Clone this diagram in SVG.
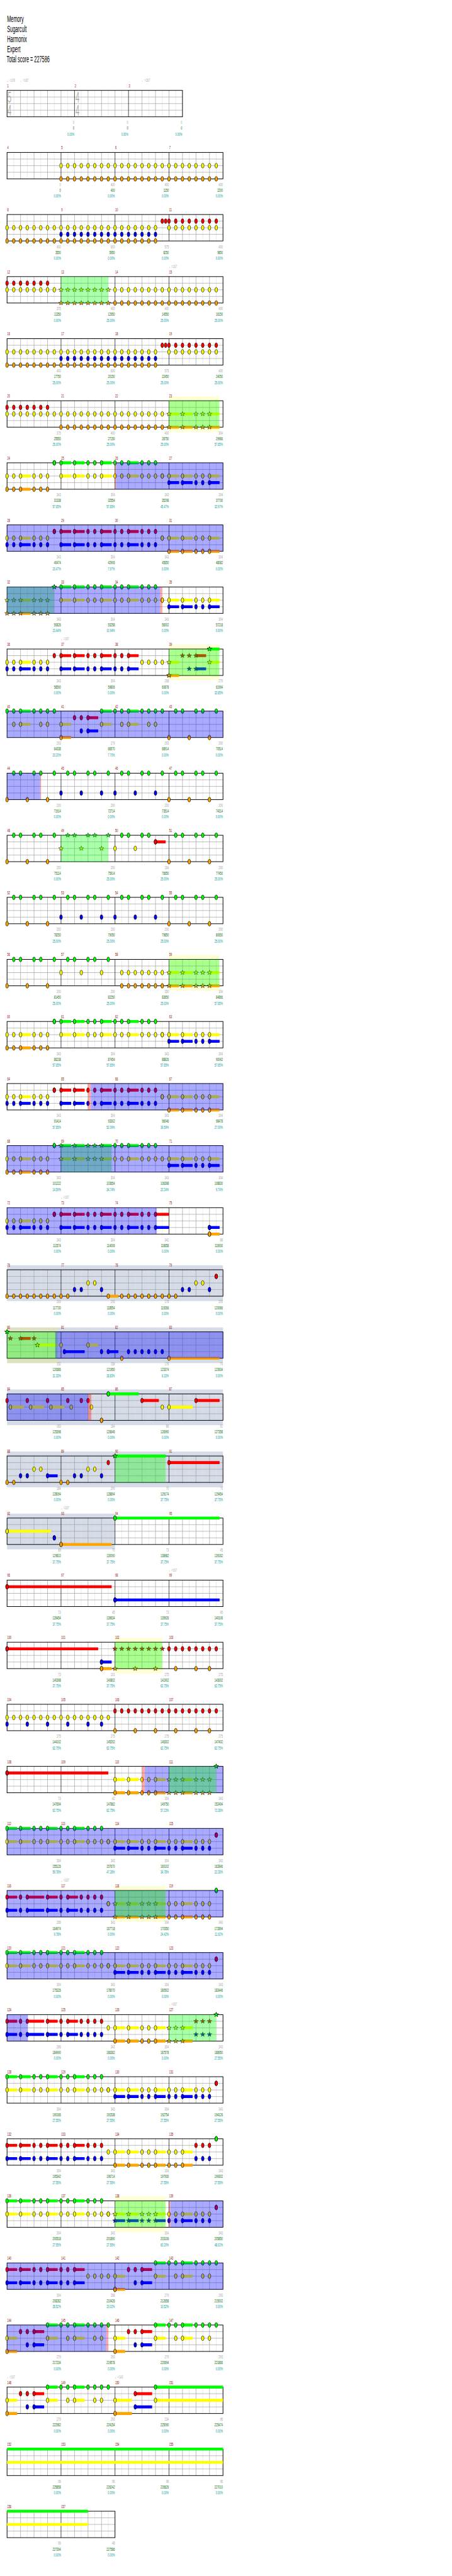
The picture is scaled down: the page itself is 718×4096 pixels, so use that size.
<svg xmlns="http://www.w3.org/2000/svg" width="718" height="4096" viewBox="0 0 718 4096">
<style>
text{font-family:"Liberation Sans",Arial,"DejaVu Sans",sans-serif}
.m,.n1,.n2,.n3,.tp{font-size:10.5px}
.m{fill:#8b0000}
.n1{fill:#a0a0a0;text-anchor:end}
.n2{fill:#006400;text-anchor:end}
.n3{fill:#009999;text-anchor:end}
.tp{fill:#aaa}
.ti{font-size:21px;fill:#000}
.ts{font-size:35px;fill:#b0b0b0}
.ng,.nr,.ny,.nb,.no,.xg,.xr,.xy,.xb,.xo{fill:none;stroke:none}
.ng{marker-start:url(#Mg);marker-mid:url(#Mg);marker-end:url(#Mg)}
.nr{marker-start:url(#Mr);marker-mid:url(#Mr);marker-end:url(#Mr)}
.ny{marker-start:url(#My);marker-mid:url(#My);marker-end:url(#My)}
.nb{marker-start:url(#Mb);marker-mid:url(#Mb);marker-end:url(#Mb)}
.no{marker-start:url(#Mo);marker-mid:url(#Mo);marker-end:url(#Mo)}
.xg{marker-start:url(#Xg);marker-mid:url(#Xg);marker-end:url(#Xg)}
.xr{marker-start:url(#Xr);marker-mid:url(#Xr);marker-end:url(#Xr)}
.xy{marker-start:url(#Xy);marker-mid:url(#Xy);marker-end:url(#Xy)}
.xb{marker-start:url(#Xb);marker-mid:url(#Xb);marker-end:url(#Xb)}
.xo{marker-start:url(#Xo);marker-mid:url(#Xo);marker-end:url(#Xo)}
.tg,.tr,.ty,.tb,.to{fill:none;stroke-width:.44}
.tg{stroke:#0f0}.tr{stroke:#f00}.ty{stroke:#ff0}.tb{stroke:#00f}.to{stroke:#ffa500}
.ob{fill:#00f;fill-opacity:.333}.og{fill:#0f0;fill-opacity:.333}.op{fill:#f00;fill-opacity:.333}
.bb{fill:#d5dbe7}.by{fill:#ff0;fill-opacity:.17}
.l1{stroke:#e2e2e2;fill:none}.l2{stroke:#a0a0a0;fill:none}.l3{stroke:#000;fill:none}.fr{fill:none;stroke:#000;stroke-width:1.4}
</style>
<defs>
<ellipse id="dot" rx=".2" ry=".36" stroke="#000" stroke-width=".06"/>
<polygon id="star" points="0,-.36 .082,-.113 .342,-.111 .133,.043 .212,.291 0,.14 -.212,.291 -.133,.043 -.342,-.111 -.082,-.113" stroke="#000" stroke-width=".05"/>
<marker id="Mg" markerUnits="userSpaceOnUse" overflow="visible"><use href="#dot" fill="#0f0"/></marker>
<marker id="Mr" markerUnits="userSpaceOnUse" overflow="visible"><use href="#dot" fill="#f00"/></marker>
<marker id="My" markerUnits="userSpaceOnUse" overflow="visible"><use href="#dot" fill="#ff0"/></marker>
<marker id="Mb" markerUnits="userSpaceOnUse" overflow="visible"><use href="#dot" fill="#00f"/></marker>
<marker id="Mo" markerUnits="userSpaceOnUse" overflow="visible"><use href="#dot" fill="#ffa500"/></marker>
<marker id="Xg" markerUnits="userSpaceOnUse" overflow="visible"><use href="#star" fill="#0f0"/></marker>
<marker id="Xr" markerUnits="userSpaceOnUse" overflow="visible"><use href="#star" fill="#f00"/></marker>
<marker id="Xy" markerUnits="userSpaceOnUse" overflow="visible"><use href="#star" fill="#ff0"/></marker>
<marker id="Xb" markerUnits="userSpaceOnUse" overflow="visible"><use href="#star" fill="#00f"/></marker>
<marker id="Xo" markerUnits="userSpaceOnUse" overflow="visible"><use href="#star" fill="#ffa500"/></marker>
<path id="q7" d="M0 0h1h1h1h1h1h1"/>
<path id="q8" d="M0 0h1h1h1h1h1h1h1"/>
<path id="q16" d="M0 0h1h1h1h1h1h1h1h1h1h1h1h1h1h1h1"/>
<path id="nA" d="M0 0H1H2H4H5H6"/>
<path id="sA" d="M2 0H3.5"/>
<path id="nB" d="M8 0H10H12H13H14H16H17H18H20H21H22"/>
<path id="sB" d="M8 0H9.5M10 0H11.5M14 0H15.5M18 0H19.5"/>
<path id="nC" d="M24 0H26H28H29H30"/>
<path id="sC" d="M24 0H25.5M26 0H27.5M30 0H31.5"/>
<path id="nD" d="M0 0H2H4H5H6H8H9H10H12H13H14"/>
<path id="sD" d="M0 0H1.5M2 0H3.5M6 0H7.5M10 0H11.5"/>
<path id="nE" d="M16 0H18H20H21H22H24H25H26H28H29H30"/>
<path id="sE" d="M16 0H17.5M18 0H19.5M22 0H23.5M26 0H27.5"/>
<path id="nF" d="M0 0H2H3H6H8H9H11H12H13H14"/>
<path id="sF" d="M0 0H1.5M3 0H5.5M6 0H7.5M9 0H10.5"/>
<path id="nG" d="M1 0H2H4H5H7H9H10H12H13H15H17H18H20H21H23H25H26H28H29H31"/>
<path id="nH" d="M0 0H3H6H24H27H30"/>
<path id="nI" d="M8 0H11H14H16H19H22"/>
<g id="st">
<path class="l1" d="M31.31 0v60M61.94 0v60M92.56 0v60M123.19 0v60M153.81 0v60M184.44 0v60M215.06 0v60M245.69 0v60M276.31 0v60M306.94 0v60M337.56 0v60M368.19 0v60M398.81 0v60M429.44 0v60M460.06 0v60M490.69 0v60"/>
<path class="l2" d="M46.63 0v60M77.25 0v60M107.88 0v60M169.13 0v60M199.75 0v60M230.38 0v60M291.63 0v60M322.25 0v60M352.88 0v60M414.13 0v60M444.75 0v60M475.38 0v60M16 15H506M16 30H506M16 45H506"/>
<path class="l3" d="M138.5 0v60M261 0v60M383.5 0v60"/>
<rect class="fr" x="16" width="490" height="60"/>
</g>
<g id="st0">
<path class="l1" d="M31.31 0v60M61.94 0v60M92.56 0v60M123.19 0v60M153.81 0v60M184.44 0v60M215.06 0v60M245.69 0v60M276.31 0v60M306.94 0v60M337.56 0v60M368.19 0v60M398.81 0v60"/>
<path class="l2" d="M46.63 0v60M77.25 0v60M107.88 0v60M138.5 0v60M199.75 0v60M230.38 0v60M261 0v60M322.25 0v60M352.88 0v60M383.5 0v60M16 15H414.1M16 30H414.1M16 45H414.1"/>
<path class="l3" d="M169.13 0v60M291.63 0v60"/>
<rect class="fr" x="16" width="398.1" height="60"/>
</g>
<g id="st2">
<path class="l1" d="M31.31 0v60M61.94 0v60M92.56 0v60M123.19 0v60M153.81 0v60M184.44 0v60M215.06 0v60M245.69 0v60"/>
<path class="l2" d="M46.63 0v60M77.25 0v60M107.88 0v60M169.13 0v60M199.75 0v60M230.38 0v60M16 15H261M16 30H261M16 45H261"/>
<path class="l3" d="M138.5 0v60"/>
<rect class="fr" x="16" width="245" height="60"/>
</g>
</defs>
<rect width="718" height="4096" fill="#fff"/>
<g transform="scale(.7)">
<g id="title" transform="scale(.5,1)"><text class="ti" x="32" y="49.3">Memory</text><text class="ti" x="32" y="72.7">Sugarcult</text><text class="ti" x="32" y="96">Harmonix</text><text class="ti" x="32" y="119">Expert</text><text class="ti" x="30" y="141.7">Total score = 227586</text></g>

<g id="r0" transform="translate(0,205.3)"><use href="#st0"/><g transform="scale(.45,1)"><text class="ts" x="38.4" y="28">5</text><text class="ts" x="38.4" y="58">4</text><text class="ts" x="380.7" y="28">4</text><text class="ts" x="380.7" y="58">4</text></g><g transform="scale(.53,1)"><text class="tp" x="30.2" y="-20">♩=109</text><text class="tp" x="87.9" y="-20">♩=167</text><text class="tp" x="607.9" y="-20">♩=167</text><text class="m" y="-7.3"><tspan x="31.1">1</tspan><tspan x="320">2</tspan><tspan x="551.1">3</tspan></text><text class="n1" y="76.4"><tspan x="318.1">0</tspan><tspan x="549.2">0</tspan><tspan x="780.4">0</tspan></text><text class="n2" y="89.4"><tspan x="318.1">0</tspan><tspan x="549.2">0</tspan><tspan x="780.4">0</tspan></text><text class="n3" y="103"><tspan x="318.1">0.00%</tspan><tspan x="549.2">0.00%</tspan><tspan x="780.4">0.00%</tspan></text></g></g>

<g id="r1" transform="translate(0,346.3)"><use href="#st"/><g transform="translate(16,0) scale(15.3125,15)"><use href="#q8" class="ny" x="8" y="2"/><use href="#q16" class="ny" x="16" y="2"/><use href="#q8" class="no" x="8" y="4"/><use href="#q16" class="no" x="16" y="4"/></g><g transform="scale(.53,1)"><text class="m" y="-7.3"><tspan x="31.1">4</tspan><tspan x="262.3">5</tspan><tspan x="493.4">6</tspan><tspan x="724.5">7</tspan></text><text class="n1" y="76.4"><tspan x="260.4">0</tspan><tspan x="491.5">400</tspan><tspan x="722.6">400</tspan><tspan x="953.8">400</tspan></text><text class="n2" y="89.4"><tspan x="260.4">0</tspan><tspan x="491.5">400</tspan><tspan x="722.6">1150</tspan><tspan x="953.8">2200</tspan></text><text class="n3" y="103"><tspan x="260.4">0.00%</tspan><tspan x="491.5">0.00%</tspan><tspan x="722.6">0.00%</tspan><tspan x="953.8">0.00%</tspan></text></g></g>

<g id="r2" transform="translate(0,487.3)"><use href="#st"/><g transform="translate(16,0) scale(15.3125,15)"><use href="#q16" class="ny" y="2"/><use href="#q7" class="ny" x="16" y="2"/><use href="#q8" class="ny" x="24" y="2"/><use href="#q8" class="nb" x="8" y="3"/><use href="#q7" class="nb" x="16" y="3"/><use href="#q16" class="no" y="4"/><use href="#q7" class="no" x="16" y="4"/><path class="nr" d="M23 1h.5h.5h1h1h1h1h1h1h1"/></g><g transform="scale(.53,1)"><text class="m" y="-7.3"><tspan x="31.1">8</tspan><tspan x="262.3">9</tspan><tspan x="493.4">10</tspan><tspan x="724.5">11</tspan></text><text class="n1" y="76.4"><tspan x="260.4">400</tspan><tspan x="491.5">600</tspan><tspan x="722.6">575</tspan><tspan x="953.8">400</tspan></text><text class="n2" y="89.4"><tspan x="260.4">3550</tspan><tspan x="491.5">5950</tspan><tspan x="722.6">8250</tspan><tspan x="953.8">9850</tspan></text><text class="n3" y="103"><tspan x="260.4">0.00%</tspan><tspan x="491.5">0.00%</tspan><tspan x="722.6">0.00%</tspan><tspan x="953.8">0.00%</tspan></text></g></g>

<g id="r3" transform="translate(0,628.3)"><use href="#st"/><g transform="translate(16,0) scale(15.3125,15)"><use href="#q7" class="nr" y="1"/><use href="#q8" class="ny" y="2"/><use href="#q8" class="xy" x="8" y="2"/><use href="#q16" class="ny" x="16" y="2"/><use href="#q8" class="xo" x="8" y="4"/><use href="#q16" class="no" x="16" y="4"/><rect class="og" x="8" width="7" height="4"/></g><g transform="scale(.53,1)"><text class="tp" x="723.6" y="-20">♩=167</text><text class="m" y="-7.3"><tspan x="31.1">12</tspan><tspan x="262.3">13</tspan><tspan x="493.4">14</tspan><tspan x="724.5">15</tspan></text><text class="n1" y="76.4"><tspan x="260.4">375</tspan><tspan x="491.5">400</tspan><tspan x="722.6">400</tspan><tspan x="953.8">400</tspan></text><text class="n2" y="89.4"><tspan x="260.4">11350</tspan><tspan x="491.5">12950</tspan><tspan x="722.6">14550</tspan><tspan x="953.8">16150</tspan></text><text class="n3" y="103"><tspan x="260.4">0.00%</tspan><tspan x="491.5">25.00%</tspan><tspan x="722.6">25.00%</tspan><tspan x="953.8">25.00%</tspan></text></g></g>

<g id="r4" transform="translate(0,769.3)"><use href="#st"/><g transform="translate(16,0) scale(15.3125,15)"><use href="#q16" class="ny" y="2"/><use href="#q7" class="ny" x="16" y="2"/><use href="#q8" class="ny" x="24" y="2"/><use href="#q8" class="nb" x="8" y="3"/><use href="#q7" class="nb" x="16" y="3"/><use href="#q16" class="no" y="4"/><use href="#q7" class="no" x="16" y="4"/><path class="nr" d="M23 1h.5h.5h1h1h1h1h1h1h1"/></g><g transform="scale(.53,1)"><text class="m" y="-7.3"><tspan x="31.1">16</tspan><tspan x="262.3">17</tspan><tspan x="493.4">18</tspan><tspan x="724.5">19</tspan></text><text class="n1" y="76.4"><tspan x="260.4">400</tspan><tspan x="491.5">600</tspan><tspan x="722.6">575</tspan><tspan x="953.8">400</tspan></text><text class="n2" y="89.4"><tspan x="260.4">17750</tspan><tspan x="491.5">20150</tspan><tspan x="722.6">22450</tspan><tspan x="953.8">24050</tspan></text><text class="n3" y="103"><tspan x="260.4">25.00%</tspan><tspan x="491.5">25.00%</tspan><tspan x="722.6">25.00%</tspan><tspan x="953.8">25.00%</tspan></text></g></g>

<g id="r5" transform="translate(0,910.3)"><rect class="by" x="383.5" y="-10" width="114.2" height="81"/><use href="#st"/><g transform="translate(16,0) scale(15.3125,15)"><use href="#sC" class="ty" y="2"/><use href="#sC" class="to" y="4"/><use href="#q7" class="nr" y="1"/><use href="#q16" class="ny" y="2"/><use href="#q8" class="ny" x="16" y="2"/><use href="#q16" class="no" x="8" y="4"/><use href="#nC" class="xy" y="2"/><use href="#nC" class="xo" y="4"/><rect class="og" x="24" width="7.46" height="4"/></g><g transform="scale(.53,1)"><text class="m" y="-7.3"><tspan x="31.1">20</tspan><tspan x="262.3">21</tspan><tspan x="493.4">22</tspan><tspan x="724.5">23</tspan></text><text class="n1" y="76.4"><tspan x="260.4">375</tspan><tspan x="491.5">400</tspan><tspan x="722.6">400</tspan><tspan x="953.8">304</tspan></text><text class="n2" y="89.4"><tspan x="260.4">25550</tspan><tspan x="491.5">27150</tspan><tspan x="722.6">28750</tspan><tspan x="953.8">29966</tspan></text><text class="n3" y="103"><tspan x="260.4">25.00%</tspan><tspan x="491.5">25.00%</tspan><tspan x="722.6">25.00%</tspan><tspan x="953.8">57.65%</tspan></text></g></g>

<g id="r6" transform="translate(0,1051.3)"><use href="#st"/><g transform="translate(16,0) scale(15.3125,15)"><use href="#sB" class="tg"/><use href="#sA" class="ty" y="2"/><use href="#sB" class="ty" y="2"/><use href="#sC" class="ty" y="2"/><use href="#sC" class="tb" y="3"/><use href="#sA" class="to" y="4"/><path class="ng" d="M7 0H7"/><use href="#nB" class="ng"/><use href="#nA" class="ny" y="2"/><use href="#nB" class="ny" y="2"/><path class="ny" d="M23 2H23"/><use href="#nC" class="ny" y="2"/><use href="#nC" class="nb" y="3"/><use href="#nA" class="no" y="4"/><rect class="op" x="16" width=".15" height="4"/><rect class="ob" x="16.15" width="15.85" height="4"/></g><g transform="scale(.53,1)"><text class="m" y="-7.3"><tspan x="31.1">24</tspan><tspan x="262.3">25</tspan><tspan x="493.4">26</tspan><tspan x="724.5">27</tspan></text><text class="n1" y="76.4"><tspan x="260.4">343</tspan><tspan x="491.5">304</tspan><tspan x="722.6">343</tspan><tspan x="953.8">304</tspan></text><text class="n2" y="89.4"><tspan x="260.4">31338</tspan><tspan x="491.5">32554</tspan><tspan x="722.6">35298</tspan><tspan x="953.8">37730</tspan></text><text class="n3" y="103"><tspan x="260.4">57.65%</tspan><tspan x="491.5">57.65%</tspan><tspan x="722.6">45.47%</tspan><tspan x="953.8">32.97%</tspan></text></g></g>

<g id="r7" transform="translate(0,1192.3)"><use href="#st"/><g transform="translate(16,0) scale(15.3125,15)"><use href="#sB" class="tr" y="1"/><use href="#sA" class="ty" y="2"/><use href="#sC" class="ty" y="2"/><use href="#sA" class="tb" y="3"/><use href="#sB" class="tb" y="3"/><use href="#sC" class="to" y="4"/><path class="nr" d="M7 1H7"/><use href="#nB" class="nr" y="1"/><use href="#nA" class="ny" y="2"/><path class="ny" d="M23 2H23"/><use href="#nC" class="ny" y="2"/><use href="#nA" class="nb" y="3"/><use href="#nB" class="nb" y="3"/><use href="#nC" class="no" y="4"/><rect class="ob" width="32" height="4"/></g><g transform="scale(.53,1)"><text class="m" y="-7.3"><tspan x="31.1">28</tspan><tspan x="262.3">29</tspan><tspan x="493.4">30</tspan><tspan x="724.5">31</tspan></text><text class="n1" y="76.4"><tspan x="260.4">343</tspan><tspan x="491.5">304</tspan><tspan x="722.6">343</tspan><tspan x="953.8">304</tspan></text><text class="n2" y="89.4"><tspan x="260.4">40474</tspan><tspan x="491.5">42906</tspan><tspan x="722.6">45650</tspan><tspan x="953.8">48082</tspan></text><text class="n3" y="103"><tspan x="260.4">20.47%</tspan><tspan x="491.5">7.97%</tspan><tspan x="722.6">0.00%</tspan><tspan x="953.8">0.00%</tspan></text></g></g>

<g id="r8" transform="translate(0,1333.3)"><use href="#st"/><g transform="translate(16,0) scale(15.3125,15)"><use href="#sB" class="tg"/><use href="#sA" class="ty" y="2"/><use href="#sB" class="ty" y="2"/><use href="#sC" class="ty" y="2"/><use href="#sC" class="tb" y="3"/><use href="#sA" class="to" y="4"/><path class="xg" d="M7 0H7"/><use href="#nB" class="ng"/><use href="#nA" class="xy" y="2"/><use href="#nB" class="ny" y="2"/><path class="ny" d="M23 2H23"/><use href="#nC" class="ny" y="2"/><use href="#nC" class="nb" y="3"/><use href="#nA" class="xo" y="4"/><rect class="og" width="7" height="4"/><rect class="ob" width="22.7" height="4"/><rect class="op" x="22.7" width=".3" height="4"/></g><g transform="scale(.53,1)"><text class="m" y="-7.3"><tspan x="31.1">32</tspan><tspan x="262.3">33</tspan><tspan x="493.4">34</tspan><tspan x="724.5">35</tspan></text><text class="n1" y="76.4"><tspan x="260.4">343</tspan><tspan x="491.5">304</tspan><tspan x="722.6">343</tspan><tspan x="953.8">304</tspan></text><text class="n2" y="89.4"><tspan x="260.4">50826</tspan><tspan x="491.5">53258</tspan><tspan x="722.6">56002</tspan><tspan x="953.8">57218</tspan></text><text class="n3" y="103"><tspan x="260.4">23.44%</tspan><tspan x="491.5">10.94%</tspan><tspan x="722.6">0.00%</tspan><tspan x="953.8">0.00%</tspan></text></g></g>

<g id="r9" transform="translate(0,1474.3)"><rect class="by" x="383.5" y="-10" width="114.2" height="81"/><use href="#st"/><g transform="translate(16,0) scale(15.3125,15)"><path class="tr" d="M8 1H9.5M10 1H11.5M14 1H15.5M18 1H19.5M28 1H29.5"/><use href="#sA" class="ty" y="2"/><path class="ty" d="M24 2H25.5M30 2H31.5"/><path class="tg" d="M30 0H31.5"/><use href="#sA" class="tb" y="3"/><path class="tb" d="M8 3H9.5M10 3H11.5M14 3H15.5M18 3H19.5M28 3H29.5"/><path class="to" d="M24 4H25.5"/><path class="nr" d="M7 1H8H10H12H13H14H16H17H18"/><use href="#nA" class="ny" y="2"/><path class="ny" d="M20 2H21H22H23"/><path class="xy" d="M24 2H30"/><path class="xg" d="M30 0H30"/><path class="xr" d="M26 1H27H28"/><use href="#nA" class="nb" y="3"/><path class="nb" d="M8 3H10H12H13H14H16H17H18"/><path class="xb" d="M27 3H28"/><path class="xo" d="M24 4H24"/><rect class="og" x="24" width="7.46" height="4"/></g><g transform="scale(.53,1)"><text class="tp" x="261.3" y="-20">♩=167</text><text class="m" y="-7.3"><tspan x="31.1">36</tspan><tspan x="262.3">37</tspan><tspan x="493.4">38</tspan><tspan x="724.5">39</tspan></text><text class="n1" y="76.4"><tspan x="260.4">343</tspan><tspan x="491.5">304</tspan><tspan x="722.6">268</tspan><tspan x="953.8">279</tspan></text><text class="n2" y="89.4"><tspan x="260.4">58590</tspan><tspan x="491.5">59806</tspan><tspan x="722.6">60878</tspan><tspan x="953.8">61994</tspan></text><text class="n3" y="103"><tspan x="260.4">0.00%</tspan><tspan x="491.5">0.00%</tspan><tspan x="722.6">0.00%</tspan><tspan x="953.8">32.65%</tspan></text></g></g>

<g id="r10" transform="translate(0,1615.3)"><use href="#st"/><g transform="translate(16,0) scale(15.3125,15)"><path class="tg" d="M2 0H3.5M14 0H15.5M18 0H19.5"/><path class="tr" d="M12 1H13.5"/><path class="ty" d="M2 2H3.5M8 2H9.5M14 2H15.5M18 2H19.5"/><path class="tb" d="M12 3H13.5"/><path class="to" d="M8 4H9.5"/><path class="ng" d="M0 0H1H2H4H5H6H7H14H16H17H18H20H21H22H23H25H26H28H29H31"/><path class="nr" d="M10 1H11H12"/><path class="ny" d="M1 2H2H5H6H8H14H17H18H21H22"/><path class="nb" d="M11 3H12"/><path class="no" d="M8 4H24H27H30"/><rect class="ob" width="32" height="4"/></g><g transform="scale(.53,1)"><text class="m" y="-7.3"><tspan x="31.1">40</tspan><tspan x="262.3">41</tspan><tspan x="493.4">42</tspan><tspan x="724.5">43</tspan></text><text class="n1" y="76.4"><tspan x="260.4">293</tspan><tspan x="491.5">279</tspan><tspan x="722.6">293</tspan><tspan x="953.8">200</tspan></text><text class="n2" y="89.4"><tspan x="260.4">64338</tspan><tspan x="491.5">66570</tspan><tspan x="722.6">68914</tspan><tspan x="953.8">70514</tspan></text><text class="n3" y="103"><tspan x="260.4">20.20%</tspan><tspan x="491.5">7.70%</tspan><tspan x="722.6">0.00%</tspan><tspan x="953.8">0.00%</tspan></text></g></g>

<g id="r11" transform="translate(0,1756.3)"><use href="#st"/><g transform="translate(16,0) scale(15.3125,15)"><use href="#nG" class="ng"/><use href="#nI" class="nb" y="3"/><use href="#nH" class="no" y="4"/><rect class="ob" width="4.9" height="4"/><rect class="op" x="4.9" width=".13" height="4"/></g><g transform="scale(.53,1)"><text class="m" y="-7.3"><tspan x="31.1">44</tspan><tspan x="262.3">45</tspan><tspan x="493.4">46</tspan><tspan x="724.5">47</tspan></text><text class="n1" y="76.4"><tspan x="260.4">200</tspan><tspan x="491.5">200</tspan><tspan x="722.6">200</tspan><tspan x="953.8">200</tspan></text><text class="n2" y="89.4"><tspan x="260.4">71914</tspan><tspan x="491.5">72714</tspan><tspan x="722.6">73514</tspan><tspan x="953.8">74314</tspan></text><text class="n3" y="103"><tspan x="260.4">0.00%</tspan><tspan x="491.5">0.00%</tspan><tspan x="722.6">0.00%</tspan><tspan x="953.8">0.00%</tspan></text></g></g>

<g id="r12" transform="translate(0,1897.3)"><use href="#st"/><g transform="translate(16,0) scale(15.3125,15)"><path class="tr" d="M22 1H23.5"/><path class="ng" d="M1 0H2H4H5H7H17H18H20H21H25H26H28H29H31"/><path class="xg" d="M9 0H10H12H13H15"/><path class="nr" d="M22 1H22"/><path class="xy" d="M8 2H11H14"/><path class="ny" d="M16 2H19"/><use href="#nH" class="no" y="4"/><rect class="og" x="8" width="7" height="4"/></g><g transform="scale(.53,1)"><text class="m" y="-7.3"><tspan x="31.1">48</tspan><tspan x="262.3">49</tspan><tspan x="493.4">50</tspan><tspan x="724.5">51</tspan></text><text class="n1" y="76.4"><tspan x="260.4">200</tspan><tspan x="491.5">200</tspan><tspan x="722.6">184</tspan><tspan x="953.8">200</tspan></text><text class="n2" y="89.4"><tspan x="260.4">75114</tspan><tspan x="491.5">75914</tspan><tspan x="722.6">76650</tspan><tspan x="953.8">77450</tspan></text><text class="n3" y="103"><tspan x="260.4">0.00%</tspan><tspan x="491.5">25.00%</tspan><tspan x="722.6">25.00%</tspan><tspan x="953.8">25.00%</tspan></text></g></g>

<g id="r13" transform="translate(0,2038.3)"><use href="#st"/><g transform="translate(16,0) scale(15.3125,15)"><use href="#nG" class="ng"/><use href="#nI" class="nb" y="3"/><use href="#nH" class="no" y="4"/></g><g transform="scale(.53,1)"><text class="m" y="-7.3"><tspan x="31.1">52</tspan><tspan x="262.3">53</tspan><tspan x="493.4">54</tspan><tspan x="724.5">55</tspan></text><text class="n1" y="76.4"><tspan x="260.4">200</tspan><tspan x="491.5">200</tspan><tspan x="722.6">200</tspan><tspan x="953.8">200</tspan></text><text class="n2" y="89.4"><tspan x="260.4">78250</tspan><tspan x="491.5">79050</tspan><tspan x="722.6">79850</tspan><tspan x="953.8">80650</tspan></text><text class="n3" y="103"><tspan x="260.4">25.00%</tspan><tspan x="491.5">25.00%</tspan><tspan x="722.6">25.00%</tspan><tspan x="953.8">25.00%</tspan></text></g></g>

<g id="r14" transform="translate(0,2179.3)"><rect class="by" x="383.5" y="-10" width="114.2" height="81"/><use href="#st"/><g transform="translate(16,0) scale(15.3125,15)"><use href="#sC" class="ty" y="2"/><use href="#sC" class="to" y="4"/><path class="ng" d="M1 0H2H4H5H7H9H10H12H13H15"/><path class="ny" d="M8 2H11H14H17H18H19H20H21H22H23"/><path class="no" d="M0 4H3H6H17H18H19H20H21H22H23"/><use href="#nC" class="xy" y="2"/><use href="#nC" class="xo" y="4"/><rect class="og" x="24" width="7.46" height="4"/></g><g transform="scale(.53,1)"><text class="m" y="-7.3"><tspan x="31.1">56</tspan><tspan x="262.3">57</tspan><tspan x="493.4">58</tspan><tspan x="724.5">59</tspan></text><text class="n1" y="76.4"><tspan x="260.4">200</tspan><tspan x="491.5">200</tspan><tspan x="722.6">350</tspan><tspan x="953.8">304</tspan></text><text class="n2" y="89.4"><tspan x="260.4">81450</tspan><tspan x="491.5">82250</tspan><tspan x="722.6">83650</tspan><tspan x="953.8">84866</tspan></text><text class="n3" y="103"><tspan x="260.4">25.00%</tspan><tspan x="491.5">25.00%</tspan><tspan x="722.6">25.00%</tspan><tspan x="953.8">57.65%</tspan></text></g></g>

<g id="r15" transform="translate(0,2320.3)"><use href="#st"/><g transform="translate(16,0) scale(15.3125,15)"><use href="#sB" class="tg"/><use href="#sA" class="ty" y="2"/><use href="#sB" class="ty" y="2"/><use href="#sC" class="ty" y="2"/><use href="#sC" class="tb" y="3"/><use href="#sA" class="to" y="4"/><path class="ng" d="M7 0H7"/><use href="#nB" class="ng"/><use href="#nA" class="ny" y="2"/><use href="#nB" class="ny" y="2"/><path class="ny" d="M23 2H23"/><use href="#nC" class="ny" y="2"/><use href="#nC" class="nb" y="3"/><use href="#nA" class="no" y="4"/></g><g transform="scale(.53,1)"><text class="m" y="-7.3"><tspan x="31.1">60</tspan><tspan x="262.3">61</tspan><tspan x="493.4">62</tspan><tspan x="724.5">63</tspan></text><text class="n1" y="76.4"><tspan x="260.4">343</tspan><tspan x="491.5">304</tspan><tspan x="722.6">343</tspan><tspan x="953.8">304</tspan></text><text class="n2" y="89.4"><tspan x="260.4">86238</tspan><tspan x="491.5">87454</tspan><tspan x="722.6">88826</tspan><tspan x="953.8">90042</tspan></text><text class="n3" y="103"><tspan x="260.4">57.65%</tspan><tspan x="491.5">57.65%</tspan><tspan x="722.6">57.65%</tspan><tspan x="953.8">57.65%</tspan></text></g></g>

<g id="r16" transform="translate(0,2461.3)"><use href="#st"/><g transform="translate(16,0) scale(15.3125,15)"><use href="#sB" class="tr" y="1"/><use href="#sA" class="ty" y="2"/><use href="#sC" class="ty" y="2"/><use href="#sA" class="tb" y="3"/><use href="#sB" class="tb" y="3"/><use href="#sC" class="to" y="4"/><path class="nr" d="M7 1H7"/><use href="#nB" class="nr" y="1"/><use href="#nA" class="ny" y="2"/><path class="ny" d="M23 2H23"/><use href="#nC" class="ny" y="2"/><use href="#nA" class="nb" y="3"/><use href="#nB" class="nb" y="3"/><use href="#nC" class="no" y="4"/><rect class="op" x="12" width=".43" height="4"/><rect class="ob" x="12.43" width="19.57" height="4"/></g><g transform="scale(.53,1)"><text class="m" y="-7.3"><tspan x="31.1">64</tspan><tspan x="262.3">65</tspan><tspan x="493.4">66</tspan><tspan x="724.5">67</tspan></text><text class="n1" y="76.4"><tspan x="260.4">343</tspan><tspan x="491.5">304</tspan><tspan x="722.6">343</tspan><tspan x="953.8">304</tspan></text><text class="n2" y="89.4"><tspan x="260.4">91414</tspan><tspan x="491.5">93302</tspan><tspan x="722.6">96046</tspan><tspan x="953.8">98478</tspan></text><text class="n3" y="103"><tspan x="260.4">57.65%</tspan><tspan x="491.5">52.09%</tspan><tspan x="722.6">39.59%</tspan><tspan x="953.8">27.09%</tspan></text></g></g>

<g id="r17" transform="translate(0,2602.3)"><use href="#st"/><g transform="translate(16,0) scale(15.3125,15)"><use href="#sB" class="tg"/><use href="#sA" class="ty" y="2"/><use href="#sB" class="ty" y="2"/><use href="#sC" class="ty" y="2"/><use href="#sC" class="tb" y="3"/><use href="#sA" class="to" y="4"/><path class="ng" d="M7 0H7M16 0H17H18H20H21H22"/><path class="xg" d="M8 0H10H12H13H14"/><use href="#nA" class="ny" y="2"/><path class="xy" d="M8 2H10H12H13H14"/><path class="ny" d="M16 2H17H18H20H21H22H23"/><use href="#nC" class="ny" y="2"/><use href="#nC" class="nb" y="3"/><use href="#nA" class="no" y="4"/><rect class="og" x="8" width="7.5" height="4"/><rect class="ob" width="32" height="4"/></g><g transform="scale(.53,1)"><text class="m" y="-7.3"><tspan x="31.1">68</tspan><tspan x="262.3">69</tspan><tspan x="493.4">70</tspan><tspan x="724.5">71</tspan></text><text class="n1" y="76.4"><tspan x="260.4">343</tspan><tspan x="491.5">304</tspan><tspan x="722.6">343</tspan><tspan x="953.8">304</tspan></text><text class="n2" y="89.4"><tspan x="260.4">101222</tspan><tspan x="491.5">103654</tspan><tspan x="722.6">106398</tspan><tspan x="953.8">108830</tspan></text><text class="n3" y="103"><tspan x="260.4">14.59%</tspan><tspan x="491.5">34.74%</tspan><tspan x="722.6">22.24%</tspan><tspan x="953.8">9.74%</tspan></text></g></g>

<g id="r18" transform="translate(0,2743.3)"><use href="#st"/><g transform="translate(16,0) scale(15.3125,15)"><use href="#sB" class="tr" y="1"/><path class="tr" d="M22 1H24"/><use href="#sA" class="ty" y="2"/><use href="#sA" class="tb" y="3"/><use href="#sB" class="tb" y="3"/><path class="tb" d="M22 3H24M30 3H31.5"/><path class="to" d="M30 4H31.5"/><path class="nr" d="M7 1H7"/><use href="#nB" class="nr" y="1"/><use href="#nA" class="ny" y="2"/><use href="#nA" class="nb" y="3"/><use href="#nB" class="nb" y="3"/><path class="nb" d="M30 3H30"/><path class="no" d="M30 4H30"/><rect class="ob" width="22.2" height="4"/></g><g transform="scale(.53,1)"><text class="tp" x="261.3" y="-20">♩=167</text><text class="m" y="-7.3"><tspan x="31.1">72</tspan><tspan x="262.3">73</tspan><tspan x="493.4">74</tspan><tspan x="724.5">75</tspan></text><text class="n1" y="76.4"><tspan x="260.4">343</tspan><tspan x="491.5">304</tspan><tspan x="722.6">342</tspan><tspan x="953.8">68</tspan></text><text class="n2" y="89.4"><tspan x="260.4">111574</tspan><tspan x="491.5">114006</tspan><tspan x="722.6">116658</tspan><tspan x="953.8">116930</tspan></text><text class="n3" y="103"><tspan x="260.4">0.00%</tspan><tspan x="491.5">0.00%</tspan><tspan x="722.6">0.00%</tspan><tspan x="953.8">0.00%</tspan></text></g></g>

<g id="r19" transform="translate(0,2884.3)"><rect class="bb" x="16" y="-10" width="490" height="81"/><use href="#st"/><g transform="translate(16,0) scale(15.3125,15)"><path class="to" d="M15 4H16.5"/><use href="#q8" class="no" y="4"/><path class="no" d="M8 4H9H15H17H18H19H20H21H22H23H24H25"/><path class="nb" d="M10 3H11H14H26H27H30"/><path class="ny" d="M12 2H13H28H29"/><path class="nr" d="M31 1H31"/></g><g transform="scale(.53,1)"><text class="m" y="-7.3"><tspan x="31.1">76</tspan><tspan x="262.3">77</tspan><tspan x="493.4">78</tspan><tspan x="724.5">79</tspan></text><text class="n1" y="76.4"><tspan x="260.4">200</tspan><tspan x="491.5">206</tspan><tspan x="722.6">178</tspan><tspan x="953.8">200</tspan></text><text class="n2" y="89.4"><tspan x="260.4">117730</tspan><tspan x="491.5">118554</tspan><tspan x="722.6">119266</tspan><tspan x="953.8">120066</tspan></text><text class="n3" y="103"><tspan x="260.4">0.00%</tspan><tspan x="491.5">0.00%</tspan><tspan x="722.6">0.00%</tspan><tspan x="953.8">0.00%</tspan></text></g></g>

<g id="r20" transform="translate(0,3025.3)"><rect class="bb" x="16" y="-10" width="490" height="81"/><rect class="by" x="16" y="-10" width="114.4" height="81"/><use href="#st"/><g transform="translate(16,0) scale(15.3125,15)"><path class="tr" d="M2 1H3.5"/><path class="ty" d="M4.5 2H7.5M12 2H13.5"/><path class="tb" d="M8.5 3H11.5M15 3H16.5"/><path class="to" d="M24 4H31.5"/><path class="xg" d="M0 0H0"/><path class="xr" d="M.5 1H2H4"/><path class="xy" d="M4.5 2H4.5"/><path class="ny" d="M8 2H12"/><path class="nb" d="M8.5 3H14H15H18H19H20H21H22H23"/><path class="no" d="M17 4H24"/><rect class="og" width="7.47" height="4"/><rect class="ob" x="7.14" width="24.86" height="4"/></g><g transform="scale(.53,1)"><text class="m" y="-7.3"><tspan x="31.1">80</tspan><tspan x="262.3">81</tspan><tspan x="493.4">82</tspan><tspan x="724.5">83</tspan></text><text class="n1" y="76.4"><tspan x="260.4">152</tspan><tspan x="491.5">158</tspan><tspan x="722.6">178</tspan><tspan x="953.8">70</tspan></text><text class="n2" y="89.4"><tspan x="260.4">120686</tspan><tspan x="491.5">121950</tspan><tspan x="722.6">123374</tspan><tspan x="953.8">123934</tspan></text><text class="n3" y="103"><tspan x="260.4">31.33%</tspan><tspan x="491.5">18.83%</tspan><tspan x="722.6">6.33%</tspan><tspan x="953.8">0.00%</tspan></text></g></g>

<g id="r21" transform="translate(0,3166.3)"><rect class="bb" x="16" y="-10" width="490" height="81"/><use href="#st"/><g transform="translate(16,0) scale(15.3125,15)"><path class="tr" d="M20 1H22.5M28 1H31.5"/><path class="ty" d="M.5 2H2.5M3.5 2H5.5M6.5 2H8.5M24 2H27.5"/><path class="tg" d="M15 0H19.5"/><path class="nr" d="M0 1H3H6H9H11H12H20H28"/><path class="ny" d="M.5 2H3.5H6.5H9.5H12.5H23H24"/><path class="ng" d="M15 0H15"/><path class="no" d="M14 4H14"/><rect class="ob" width="12" height="4"/><rect class="op" x="12" width=".49" height="4"/></g><g transform="scale(.53,1)"><text class="m" y="-7.3"><tspan x="31.1">84</tspan><tspan x="262.3">85</tspan><tspan x="493.4">86</tspan><tspan x="724.5">87</tspan></text><text class="n1" y="76.4"><tspan x="260.4">183</tspan><tspan x="491.5">184</tspan><tspan x="722.6">86</tspan><tspan x="953.8">92</tspan></text><text class="n2" y="89.4"><tspan x="260.4">125398</tspan><tspan x="491.5">126646</tspan><tspan x="722.6">126990</tspan><tspan x="953.8">127358</tspan></text><text class="n3" y="103"><tspan x="260.4">0.00%</tspan><tspan x="491.5">0.00%</tspan><tspan x="722.6">0.00%</tspan><tspan x="953.8">0.00%</tspan></text></g></g>

<g id="r22" transform="translate(0,3307.3)"><rect class="bb" x="16" y="-10" width="490" height="81"/><use href="#st"/><g transform="translate(16,0) scale(15.3125,15)"><path class="tb" d="M6 3H7.5"/><path class="tr" d="M24 1H31.5"/><path class="tg" d="M16 0H23.5"/><path class="no" d="M0 4H1H8H9"/><path class="nb" d="M2 3H3H6H10H11H14"/><path class="ny" d="M4 2H5H12H13"/><path class="nr" d="M15 1H24"/><path class="xg" d="M16 0H16"/><rect class="og" x="16" width="7.5" height="4"/></g><g transform="scale(.53,1)"><text class="m" y="-7.3"><tspan x="31.1">88</tspan><tspan x="262.3">89</tspan><tspan x="493.4">90</tspan><tspan x="724.5">91</tspan></text><text class="n1" y="76.4"><tspan x="260.4">184</tspan><tspan x="491.5">200</tspan><tspan x="722.6">70</tspan><tspan x="953.8">70</tspan></text><text class="n2" y="89.4"><tspan x="260.4">128094</tspan><tspan x="491.5">128894</tspan><tspan x="722.6">129174</tspan><tspan x="953.8">129454</tspan></text><text class="n3" y="103"><tspan x="260.4">0.00%</tspan><tspan x="491.5">0.00%</tspan><tspan x="722.6">37.75%</tspan><tspan x="953.8">37.75%</tspan></text></g></g>

<g id="r23" transform="translate(0,3448.3)"><rect class="bb" x="16" y="-10" width="245" height="81"/><use href="#st"/><g transform="translate(16,0) scale(15.3125,15)"><path class="ty" d="M0 2H6.5"/><path class="to" d="M8 4H15.5"/><path class="tg" d="M16 0H31.5"/><path class="ny" d="M0 2H0"/><path class="nb" d="M7 3H7"/><path class="no" d="M8 4H8"/><path class="ng" d="M16 0H16"/></g><g transform="scale(.53,1)"><text class="tp" x="261.3" y="-20">♩=167</text><text class="m" y="-7.3"><tspan x="31.1">92</tspan><tspan x="262.3">93</tspan><tspan x="493.4">94</tspan><tspan x="724.5">95</tspan></text><text class="n1" y="76.4"><tspan x="260.4">89</tspan><tspan x="491.5">70</tspan><tspan x="722.6">73</tspan><tspan x="953.8">45</tspan></text><text class="n2" y="89.4"><tspan x="260.4">129810</tspan><tspan x="491.5">130090</tspan><tspan x="722.6">138982</tspan><tspan x="953.8">139162</tspan></text><text class="n3" y="103"><tspan x="260.4">37.75%</tspan><tspan x="491.5">37.75%</tspan><tspan x="722.6">37.75%</tspan><tspan x="953.8">37.75%</tspan></text></g></g>

<g id="r24" transform="translate(0,3589.3)"><use href="#st"/><g transform="translate(16,0) scale(15.3125,15)"><path class="tr" d="M0 1H15.5"/><path class="tb" d="M16 3H31.5"/><path class="nr" d="M0 1H0"/><path class="nb" d="M16 3H16"/></g><g transform="scale(.53,1)"><text class="tp" x="723.6" y="-20">♩=167</text><text class="m" y="-7.3"><tspan x="31.1">96</tspan><tspan x="262.3">97</tspan><tspan x="493.4">98</tspan><tspan x="724.5">99</tspan></text><text class="n1" y="76.4"><tspan x="260.4">73</tspan><tspan x="491.5">45</tspan><tspan x="722.6">73</tspan><tspan x="953.8">45</tspan></text><text class="n2" y="89.4"><tspan x="260.4">139454</tspan><tspan x="491.5">139634</tspan><tspan x="722.6">139926</tspan><tspan x="953.8">140106</tspan></text><text class="n3" y="103"><tspan x="260.4">37.75%</tspan><tspan x="491.5">37.75%</tspan><tspan x="722.6">37.75%</tspan><tspan x="953.8">37.75%</tspan></text></g></g>

<g id="r25" transform="translate(0,3730.3)"><rect class="by" x="261" y="-10" width="107.2" height="81"/><use href="#st"/><g transform="translate(16,0) scale(15.3125,15)"><path class="tr" d="M0 1H13.5"/><path class="tb" d="M14 3H15.5"/><path class="to" d="M14 4H15.5"/><path class="nr" d="M0 1H0"/><use href="#q8" class="xr" x="16" y="1"/><use href="#q8" class="nr" x="24" y="1"/><path class="nb" d="M14 3H14"/><path class="no" d="M14 4H14M25 4H28H30"/><path class="xo" d="M16 4H19H22"/><rect class="og" x="16" width="7" height="4"/></g><g transform="scale(.53,1)"><text class="m" y="-7.3"><tspan x="31.1">100</tspan><tspan x="262.3">101</tspan><tspan x="493.4">102</tspan><tspan x="724.5">103</tspan></text><text class="n1" y="76.4"><tspan x="260.4">73</tspan><tspan x="491.5">101</tspan><tspan x="722.6">275</tspan><tspan x="953.8">275</tspan></text><text class="n2" y="89.4"><tspan x="260.4">140398</tspan><tspan x="491.5">140802</tspan><tspan x="722.6">141902</tspan><tspan x="953.8">143002</tspan></text><text class="n3" y="103"><tspan x="260.4">37.75%</tspan><tspan x="491.5">37.75%</tspan><tspan x="722.6">62.75%</tspan><tspan x="953.8">62.75%</tspan></text></g></g>

<g id="r26" transform="translate(0,3871.3)"><use href="#st"/><g transform="translate(16,0) scale(15.3125,15)"><use href="#q16" class="ny" y="2"/><path class="nb" d="M0 3H3H6H9H12H14"/><use href="#q16" class="nr" x="16" y="1"/><path class="no" d="M16 4H19H22H25H28H30"/></g><g transform="scale(.53,1)"><text class="m" y="-7.3"><tspan x="31.1">104</tspan><tspan x="262.3">105</tspan><tspan x="493.4">106</tspan><tspan x="724.5">107</tspan></text><text class="n1" y="76.4"><tspan x="260.4">275</tspan><tspan x="491.5">275</tspan><tspan x="722.6">275</tspan><tspan x="953.8">275</tspan></text><text class="n2" y="89.4"><tspan x="260.4">144102</tspan><tspan x="491.5">145202</tspan><tspan x="722.6">146302</tspan><tspan x="953.8">147402</tspan></text><text class="n3" y="103"><tspan x="260.4">62.75%</tspan><tspan x="491.5">62.75%</tspan><tspan x="722.6">62.75%</tspan><tspan x="953.8">62.75%</tspan></text></g></g>

<g id="r27" transform="translate(0,4012.3)"><use href="#st"/><g transform="translate(16,0) scale(15.3125,15)"><path class="tr" d="M0 1H15"/><use href="#sE" class="ty" y="2"/><use href="#sE" class="to" y="4"/><path class="nr" d="M0 1H0"/><path class="ny" d="M16 2H18H20H21H22"/><path class="xy" d="M24 2H25H26H28H29H30"/><path class="no" d="M16 4H18H20H21H22"/><path class="xo" d="M24 4H25H26H28H29H30"/><path class="xg" d="M31 0H31"/><rect class="op" x="20" width=".42" height="4"/><rect class="ob" x="20.42" width="11.58" height="4"/><rect class="og" x="24" width="7" height="4"/></g><g transform="scale(.53,1)"><text class="m" y="-7.3"><tspan x="31.1">108</tspan><tspan x="262.3">109</tspan><tspan x="493.4">110</tspan><tspan x="724.5">111</tspan></text><text class="n1" y="76.4"><tspan x="260.4">73</tspan><tspan x="491.5">42</tspan><tspan x="722.6">304</tspan><tspan x="953.8">343</tspan></text><text class="n2" y="89.4"><tspan x="260.4">147694</tspan><tspan x="491.5">147862</tspan><tspan x="722.6">149750</tspan><tspan x="953.8">152494</tspan></text><text class="n3" y="103"><tspan x="260.4">62.75%</tspan><tspan x="491.5">62.75%</tspan><tspan x="722.6">57.23%</tspan><tspan x="953.8">72.28%</tspan></text></g></g>

<g id="r28" transform="translate(0,4153.3)"><use href="#st"/><g transform="translate(16,0) scale(15.3125,15)"><use href="#sD" class="tg"/><use href="#sD" class="ty" y="2"/><use href="#sE" class="ty" y="2"/><use href="#sE" class="tb" y="3"/><use href="#nD" class="ng"/><use href="#nD" class="ny" y="2"/><path class="ny" d="M15 2H15"/><use href="#nE" class="ny" y="2"/><use href="#nE" class="nb" y="3"/><path class="nr" d="M31 1H31"/><rect class="ob" width="32" height="4"/></g><g transform="scale(.53,1)"><text class="m" y="-7.3"><tspan x="31.1">112</tspan><tspan x="262.3">113</tspan><tspan x="493.4">114</tspan><tspan x="724.5">115</tspan></text><text class="n1" y="76.4"><tspan x="260.4">304</tspan><tspan x="491.5">343</tspan><tspan x="722.6">304</tspan><tspan x="953.8">343</tspan></text><text class="n2" y="89.4"><tspan x="260.4">155126</tspan><tspan x="491.5">157670</tspan><tspan x="722.6">160102</tspan><tspan x="953.8">162846</tspan></text><text class="n3" y="103"><tspan x="260.4">59.78%</tspan><tspan x="491.5">47.28%</tspan><tspan x="722.6">34.78%</tspan><tspan x="953.8">22.28%</tspan></text></g></g>

<g id="r29" transform="translate(0,4294.3)"><rect class="by" x="261" y="-10" width="114.8" height="81"/><use href="#st"/><g transform="translate(16,0) scale(15.3125,15)"><use href="#sF" class="tr" y="1"/><use href="#sF" class="tb" y="3"/><use href="#sE" class="ty" y="2"/><use href="#sE" class="to" y="4"/><use href="#nF" class="nr" y="1"/><use href="#nF" class="nb" y="3"/><path class="ny" d="M15 2H15M24 2H25H26H28H29H30"/><path class="xy" d="M16 2H18H20H21H22"/><path class="xo" d="M16 4H18H20H21H22"/><path class="no" d="M24 4H25H26H28H29H30"/><path class="ng" d="M31 0H31"/><rect class="ob" width="32" height="4"/><rect class="og" x="16" width="7.5" height="4"/></g><g transform="scale(.53,1)"><text class="tp" x="261.3" y="-20">♩=167</text><text class="m" y="-7.3"><tspan x="31.1">116</tspan><tspan x="262.3">117</tspan><tspan x="493.4">118</tspan><tspan x="724.5">119</tspan></text><text class="n1" y="76.4"><tspan x="260.4">266</tspan><tspan x="491.5">343</tspan><tspan x="722.6">304</tspan><tspan x="953.8">343</tspan></text><text class="n2" y="89.4"><tspan x="260.4">164974</tspan><tspan x="491.5">167718</tspan><tspan x="722.6">170350</tspan><tspan x="953.8">172894</tspan></text><text class="n3" y="103"><tspan x="260.4">9.78%</tspan><tspan x="491.5">0.00%</tspan><tspan x="722.6">24.42%</tspan><tspan x="953.8">11.92%</tspan></text></g></g>

<g id="r30" transform="translate(0,4435.3)"><use href="#st"/><g transform="translate(16,0) scale(15.3125,15)"><use href="#sD" class="tg"/><use href="#sD" class="ty" y="2"/><use href="#sE" class="ty" y="2"/><use href="#sE" class="tb" y="3"/><use href="#nD" class="ng"/><use href="#nD" class="ny" y="2"/><path class="ny" d="M15 2H15"/><use href="#nE" class="ny" y="2"/><use href="#nE" class="nb" y="3"/><path class="nr" d="M31 1H31"/><rect class="ob" width="32" height="4"/></g><g transform="scale(.53,1)"><text class="m" y="-7.3"><tspan x="31.1">120</tspan><tspan x="262.3">121</tspan><tspan x="493.4">122</tspan><tspan x="724.5">123</tspan></text><text class="n1" y="76.4"><tspan x="260.4">304</tspan><tspan x="491.5">343</tspan><tspan x="722.6">304</tspan><tspan x="953.8">343</tspan></text><text class="n2" y="89.4"><tspan x="260.4">175326</tspan><tspan x="491.5">178070</tspan><tspan x="722.6">180502</tspan><tspan x="953.8">183446</tspan></text><text class="n3" y="103"><tspan x="260.4">0.00%</tspan><tspan x="491.5">0.00%</tspan><tspan x="722.6">0.00%</tspan><tspan x="953.8">0.00%</tspan></text></g></g>

<g id="r31" transform="translate(0,4576.3)"><use href="#st"/><g transform="translate(16,0) scale(15.3125,15)"><use href="#sF" class="tr" y="1"/><use href="#sF" class="tb" y="3"/><use href="#sE" class="ty" y="2"/><use href="#sE" class="to" y="4"/><use href="#nF" class="nr" y="1"/><path class="xr" d="M28 1H29H30"/><use href="#nF" class="nb" y="3"/><path class="xb" d="M28 3H29H30"/><path class="ny" d="M15 2H16H18H20H21H22"/><path class="xy" d="M24 2H25H26"/><path class="no" d="M16 4H18H20H21H22"/><path class="xo" d="M24 4H25H26"/><path class="xg" d="M31 0H31"/><rect class="ob" width="3.09" height="4"/><rect class="og" x="24" width="7" height="4"/></g><g transform="scale(.53,1)"><text class="tp" x="723.6" y="-20">♩=167</text><text class="m" y="-7.3"><tspan x="31.1">124</tspan><tspan x="262.3">125</tspan><tspan x="493.4">126</tspan><tspan x="724.5">127</tspan></text><text class="n1" y="76.4"><tspan x="260.4">266</tspan><tspan x="491.5">343</tspan><tspan x="722.6">304</tspan><tspan x="953.8">343</tspan></text><text class="n2" y="89.4"><tspan x="260.4">184990</tspan><tspan x="491.5">186362</tspan><tspan x="722.6">187578</tspan><tspan x="953.8">188950</tspan></text><text class="n3" y="103"><tspan x="260.4">0.00%</tspan><tspan x="491.5">0.00%</tspan><tspan x="722.6">0.00%</tspan><tspan x="953.8">27.55%</tspan></text></g></g>

<g id="r32" transform="translate(0,4717.3)"><use href="#st"/><g transform="translate(16,0) scale(15.3125,15)"><use href="#sD" class="tg"/><use href="#sD" class="ty" y="2"/><use href="#sE" class="ty" y="2"/><use href="#sE" class="tb" y="3"/><use href="#nD" class="ng"/><use href="#nD" class="ny" y="2"/><path class="ny" d="M15 2H15"/><use href="#nE" class="ny" y="2"/><use href="#nE" class="nb" y="3"/><path class="nr" d="M31 1H31"/></g><g transform="scale(.53,1)"><text class="m" y="-7.3"><tspan x="31.1">128</tspan><tspan x="262.3">129</tspan><tspan x="493.4">130</tspan><tspan x="724.5">131</tspan></text><text class="n1" y="76.4"><tspan x="260.4">304</tspan><tspan x="491.5">343</tspan><tspan x="722.6">304</tspan><tspan x="953.8">343</tspan></text><text class="n2" y="89.4"><tspan x="260.4">190166</tspan><tspan x="491.5">191538</tspan><tspan x="722.6">192754</tspan><tspan x="953.8">194126</tspan></text><text class="n3" y="103"><tspan x="260.4">27.55%</tspan><tspan x="491.5">27.55%</tspan><tspan x="722.6">27.55%</tspan><tspan x="953.8">27.55%</tspan></text></g></g>

<g id="r33" transform="translate(0,4858.3)"><use href="#st"/><g transform="translate(16,0) scale(15.3125,15)"><use href="#sD" class="tr" y="1"/><use href="#sD" class="tb" y="3"/><use href="#sE" class="ty" y="2"/><use href="#sE" class="to" y="4"/><use href="#nD" class="nr" y="1"/><path class="nr" d="M28 1H29H30"/><use href="#nD" class="nb" y="3"/><path class="nb" d="M28 3H29H30"/><path class="ny" d="M15 2H16H18H20H21H22H24H25H26"/><path class="no" d="M16 4H18H20H21H22H24H25H26"/><path class="ng" d="M31 0H31"/></g><g transform="scale(.53,1)"><text class="m" y="-7.3"><tspan x="31.1">132</tspan><tspan x="262.3">133</tspan><tspan x="493.4">134</tspan><tspan x="724.5">135</tspan></text><text class="n1" y="76.4"><tspan x="260.4">304</tspan><tspan x="491.5">343</tspan><tspan x="722.6">304</tspan><tspan x="953.8">343</tspan></text><text class="n2" y="89.4"><tspan x="260.4">195342</tspan><tspan x="491.5">196714</tspan><tspan x="722.6">197930</tspan><tspan x="953.8">199302</tspan></text><text class="n3" y="103"><tspan x="260.4">27.55%</tspan><tspan x="491.5">27.55%</tspan><tspan x="722.6">27.55%</tspan><tspan x="953.8">27.55%</tspan></text></g></g>

<g id="r34" transform="translate(0,4999.3)"><rect class="by" x="261" y="-10" width="114.8" height="81"/><use href="#st"/><g transform="translate(16,0) scale(15.3125,15)"><use href="#sD" class="tg"/><use href="#sD" class="ty" y="2"/><use href="#sE" class="ty" y="2"/><use href="#sE" class="tb" y="3"/><use href="#nD" class="ng"/><use href="#nD" class="ny" y="2"/><path class="ny" d="M15 2H15M24 2H25H26H28H29H30"/><path class="xy" d="M16 2H18H20H21H22"/><path class="xb" d="M16 3H18H20H21H22"/><path class="nb" d="M24 3H25H26H28H29H30"/><path class="nr" d="M31 1H31"/><rect class="og" x="16" width="7.5" height="4"/><rect class="op" x="24" width=".2" height="4"/><rect class="ob" x="24.2" width="7.8" height="4"/></g><g transform="scale(.53,1)"><text class="m" y="-7.3"><tspan x="31.1">136</tspan><tspan x="262.3">137</tspan><tspan x="493.4">138</tspan><tspan x="724.5">139</tspan></text><text class="n1" y="76.4"><tspan x="260.4">304</tspan><tspan x="491.5">343</tspan><tspan x="722.6">304</tspan><tspan x="953.8">343</tspan></text><text class="n2" y="89.4"><tspan x="260.4">200518</tspan><tspan x="491.5">201890</tspan><tspan x="722.6">203106</tspan><tspan x="953.8">205850</tspan></text><text class="n3" y="103"><tspan x="260.4">27.55%</tspan><tspan x="491.5">27.55%</tspan><tspan x="722.6">60.20%</tspan><tspan x="953.8">48.02%</tspan></text></g></g>

<g id="r35" transform="translate(0,5140.3)"><use href="#st"/><g transform="translate(16,0) scale(15.3125,15)"><use href="#sD" class="tr" y="1"/><path class="tr" d="M20 1H21.5"/><use href="#sD" class="tb" y="3"/><path class="tb" d="M20 3H21.5"/><path class="ty" d="M16 2H17.5M22 2H23.5M26 2H27.5"/><path class="tg" d="M22 0H23.5M26 0H27.5"/><path class="to" d="M16 4H17.5"/><path class="nr" d="M0 1H2H4H5H6H8H9H10H18H19H20"/><path class="nb" d="M0 3H2H4H5H6H8H9H10H19H20"/><path class="ny" d="M12 2H13H14H15H16H22H25H26H29H30"/><path class="ng" d="M22 0H24H25H26H28H29H30H31"/><path class="no" d="M16 4H16"/><rect class="ob" width="32" height="4"/></g><g transform="scale(.53,1)"><text class="m" y="-7.3"><tspan x="31.1">140</tspan><tspan x="262.3">141</tspan><tspan x="493.4">142</tspan><tspan x="724.5">143</tspan></text><text class="n1" y="76.4"><tspan x="260.4">304</tspan><tspan x="491.5">268</tspan><tspan x="722.6">279</tspan><tspan x="953.8">293</tspan></text><text class="n2" y="89.4"><tspan x="260.4">208282</tspan><tspan x="491.5">210426</tspan><tspan x="722.6">212658</tspan><tspan x="953.8">215002</tspan></text><text class="n3" y="103"><tspan x="260.4">35.52%</tspan><tspan x="491.5">23.02%</tspan><tspan x="722.6">10.52%</tspan><tspan x="953.8">0.00%</tspan></text></g></g>

<g id="r36" transform="translate(0,5281.3)"><use href="#st"/><g transform="translate(16,0) scale(15.3125,15)"><path class="tg" d="M6 0H7.5M10 0H11.5M22 0H23.5M26 0H27.5"/><path class="tr" d="M4 1H5.5M20 1H21.5"/><path class="ty" d="M0 2H1.5M6 2H7.5M10 2H11.5M16 2H17.5M22 2H23.5M26 2H27.5"/><path class="tb" d="M4 3H5.5M20 3H21.5"/><path class="to" d="M0 4H1.5M16 4H17.5"/><path class="ng" d="M6 0H8H9H10H12H13H14H15H22H24H25H26H28H29H30H31"/><path class="nr" d="M2 1H3H4H18H19H20"/><path class="ny" d="M0 2H6H9H10H13H14H16H22H25H26H29H30"/><path class="nb" d="M3 3H4H19H20"/><path class="no" d="M0 4H16"/><rect class="ob" width="14.71" height="4"/><rect class="op" x="14.71" width=".29" height="4"/></g><g transform="scale(.53,1)"><text class="m" y="-7.3"><tspan x="31.1">144</tspan><tspan x="262.3">145</tspan><tspan x="493.4">146</tspan><tspan x="724.5">147</tspan></text><text class="n1" y="76.4"><tspan x="260.4">279</tspan><tspan x="491.5">293</tspan><tspan x="722.6">279</tspan><tspan x="953.8">293</tspan></text><text class="n2" y="89.4"><tspan x="260.4">217234</tspan><tspan x="491.5">219578</tspan><tspan x="722.6">220694</tspan><tspan x="953.8">221866</tspan></text><text class="n3" y="103"><tspan x="260.4">0.00%</tspan><tspan x="491.5">0.00%</tspan><tspan x="722.6">0.00%</tspan><tspan x="953.8">0.00%</tspan></text></g></g>

<g id="r37" transform="translate(0,5422.3)"><use href="#st"/><g transform="translate(16,0) scale(15.3125,15)"><path class="tg" d="M6 0H7.5M10 0H11.5M22 0H32"/><path class="tr" d="M4 1H5.5M19 1H21.5"/><path class="ty" d="M0 2H1.5M6 2H7.5M10 2H11.5M16 2H18.5M22 2H32"/><path class="tb" d="M4 3H5.5M19 3H21.5"/><path class="to" d="M0 4H1.5M16 4H18.5"/><path class="ng" d="M6 0H8H9H10H12H13H14H15H22"/><path class="nr" d="M2 1H3H4H19"/><path class="ny" d="M0 2H6H9H10H13H14H16H22"/><path class="nb" d="M3 3H4H19"/><path class="no" d="M0 4H16"/></g><g transform="scale(.53,1)"><text class="tp" x="30.2" y="-20">♩=167</text><text class="tp" x="492.5" y="-20">♩=143</text><text class="m" y="-7.3"><tspan x="31.1">148</tspan><tspan x="262.3">149</tspan><tspan x="493.4">150</tspan><tspan x="724.5">151</tspan></text><text class="n1" y="76.4"><tspan x="260.4">279</tspan><tspan x="491.5">293</tspan><tspan x="722.6">234</tspan><tspan x="953.8">96</tspan></text><text class="n2" y="89.4"><tspan x="260.4">222982</tspan><tspan x="491.5">224154</tspan><tspan x="722.6">225090</tspan><tspan x="953.8">225474</tspan></text><text class="n3" y="103"><tspan x="260.4">0.00%</tspan><tspan x="491.5">0.00%</tspan><tspan x="722.6">0.00%</tspan><tspan x="953.8">0.00%</tspan></text></g></g>

<g id="r38" transform="translate(0,5563.3)"><use href="#st"/><g transform="translate(16,0) scale(15.3125,15)"><path class="tg" d="M0 0H32"/><path class="ty" d="M0 2H32"/></g><g transform="scale(.53,1)"><text class="m" y="-7.3"><tspan x="31.1">152</tspan><tspan x="262.3">153</tspan><tspan x="493.4">154</tspan><tspan x="724.5">155</tspan></text><text class="n1" y="76.4"><tspan x="260.4">96</tspan><tspan x="491.5">96</tspan><tspan x="722.6">96</tspan><tspan x="953.8">96</tspan></text><text class="n2" y="89.4"><tspan x="260.4">225858</tspan><tspan x="491.5">226242</tspan><tspan x="722.6">226626</tspan><tspan x="953.8">227010</tspan></text><text class="n3" y="103"><tspan x="260.4">0.00%</tspan><tspan x="491.5">0.00%</tspan><tspan x="722.6">0.00%</tspan><tspan x="953.8">0.00%</tspan></text></g></g>

<g id="r39" transform="translate(0,5704.3)"><use href="#st2"/><g transform="translate(16,0) scale(15.3125,15)"><path class="tg" d="M0 0H12"/><path class="ty" d="M0 2H12"/></g><g transform="scale(.53,1)"><text class="m" y="-7.3"><tspan x="31.1">156</tspan><tspan x="262.3">157</tspan></text><text class="n1" y="76.4"><tspan x="260.4">96</tspan><tspan x="491.5">48</tspan></text><text class="n2" y="89.4"><tspan x="260.4">227394</tspan><tspan x="491.5">227586</tspan></text><text class="n3" y="103"><tspan x="260.4">0.00%</tspan><tspan x="491.5">0.00%</tspan></text></g></g>
</g>
</svg>
